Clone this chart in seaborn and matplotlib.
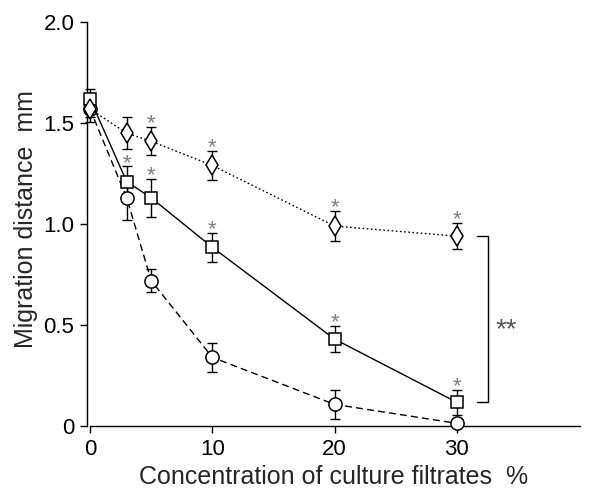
import numpy as np
import pandas as pd
import seaborn as sns
import matplotlib.pyplot as plt

# concentration of culture filtrates (%)
conc = [0, 3, 5, 10, 20, 30]

# migration distance (mm), mean and error per series
diamond_y = [1.57, 1.45, 1.41, 1.29, 0.99, 0.94]
diamond_err = [0.04, 0.08, 0.07, 0.07, 0.075, 0.065]
square_y = [1.62, 1.21, 1.13, 0.885, 0.43, 0.117]
square_err = [0.05, 0.075, 0.095, 0.073, 0.064, 0.062]
circle_y = [1.57, 1.13, 0.72, 0.34, 0.107, 0.013]
circle_err = [0.065, 0.11, 0.055, 0.073, 0.07, 0.02]

# which points carry a significance asterisk
diamond_sig = [False, False, True, True, True, True]
square_sig = [False, True, True, True, True, True]

x_ticks = [0, 10, 20, 30]
y_ticks = [0, 0.5, 1.0, 1.5, 2.0]
y_ticklabels = ["0", "0.5", "1.0", "1.5", "2.0"]

sns.set_style("ticks")
plt.rcParams["font.family"] = ["Liberation Sans", "DejaVu Sans"]

fig = plt.figure(figsize=(5.91, 4.90), dpi=100)
ax = fig.add_axes([87 / 591, 64 / 490, 493 / 591, 414 / 490])

# drawn bottom to top: circle, square, diamond
series = [
    ("circle", circle_y, circle_err, "o", 9.5, (5, 3)),
    ("square", square_y, square_err, "s", 9, ""),
    ("diamond", diamond_y, diamond_err, "d", 10, (1.2, 1.8)),
]

for i, (name, ys, errs, marker, ms, dash) in enumerate(series):
    df = pd.DataFrame({"conc": conc, "dist": ys})
    ax.errorbar(conc, ys, yerr=errs, fmt="none", ecolor="black",
                elinewidth=1.0, capsize=3.5, capthick=1.0, zorder=2,
                clip_on=False)
    line_kws = dict(color="black", linewidth=1.0, marker=marker,
                    markersize=ms, markerfacecolor="white",
                    markeredgecolor="black", markeredgewidth=1.1,
                    zorder=3 + i, clip_on=False)
    sns.lineplot(data=df, x="conc", y="dist", ax=ax, **line_kws)
    line = ax.lines[-1]
    if dash:
        line.set_dashes(dash)

# significance asterisks
for ys, errs, sig in [(diamond_y, diamond_err, diamond_sig),
                      (square_y, square_err, square_sig)]:
    for xv, yv, ev, s in zip(conc, ys, errs, sig):
        if s:
            ax.annotate("*", (xv, yv + ev), xytext=(0, -1.6),
                        textcoords="offset points", ha="center",
                        va="baseline", fontsize=16, color="#808080")

# bracket between diamond and square at 30 %
bx0, bx1 = 31.6, 32.5
ax.plot([bx0, bx1, bx1, bx0],
        [diamond_y[-1], diamond_y[-1], square_y[-1], square_y[-1]],
        color="black", linewidth=1.0, clip_on=False)
ax.annotate("**", (34.0, (diamond_y[-1] + square_y[-1]) / 2),
            xytext=(0, -13), textcoords="offset points", ha="center",
            va="baseline", fontsize=20, color="#555555")

ax.set_xlim(-0.245, 40.06)
ax.set_ylim(0, 2.05)
ax.set_xticks(x_ticks)
ax.set_yticks(y_ticks)
ax.set_yticklabels(y_ticklabels)
ax.tick_params(direction="out", length=5, width=1.0, labelsize=16,
               pad=4, colors="black")
sns.despine(ax=ax)
ax.spines["left"].set_bounds(0, 2.0)
ax.spines["bottom"].set_bounds(0, 40.06)
for sp in ("left", "bottom"):
    ax.spines[sp].set_linewidth(1.0)
    ax.spines[sp].set_color("black")

ax.set_xlabel("Concentration of culture filtrates  %", fontsize=18, labelpad=4)
ax.set_ylabel("Migration distance  mm", fontsize=18, labelpad=4)

fig.savefig("out.png", dpi=100)
